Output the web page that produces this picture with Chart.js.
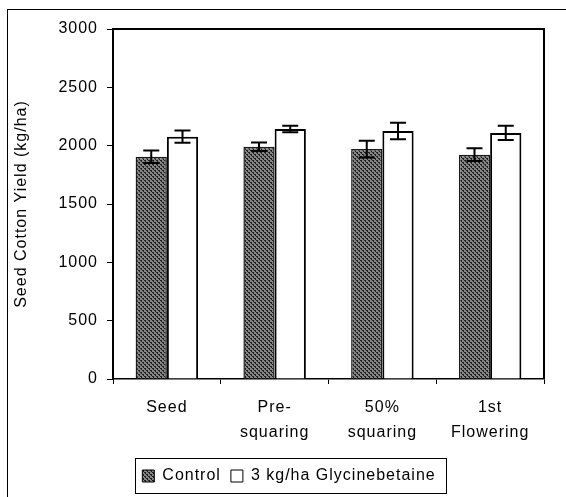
<!DOCTYPE html>
<html>
<head>
<meta charset="utf-8">
<script src="https://cdn.jsdelivr.net/npm/chart.js@4.4.1/dist/chart.umd.min.js"></script>
<style>
  html, body { margin: 0; padding: 0; background: #fff; overflow: hidden; }
  #wrap { position: relative; width: 566px; height: 497px; }
  #frame { position: absolute; left: 7px; top: 9px; width: 700px; height: 700px; border: 1px solid #000; box-sizing: border-box; }
  canvas { position: absolute; left: 0; top: 0; }
</style>
</head>
<body>
<div id="wrap">
  <div id="frame"></div>
  <canvas id="c" width="566" height="497"></canvas>
</div>
<script>
// ---- data ----
const categories = [["Seed"], ["Pre-", "squaring"], ["50%", "squaring"], ["1st", "Flowering"]];
const seriesNames = ["Control", "3 kg/ha Glycinebetaine"];
const controlValues = [1905, 1991, 1971, 1923];
const glycineValues = [2077, 2143, 2126, 2109];
const controlErrors = [54, 36, 72, 54];
const glycineErrors = [53, 28, 70, 61];
const yTicks = [0, 500, 1000, 1500, 2000, 2500, 3000];
const yTitle = "Seed Cotton Yield (kg/ha)";

// ---- pattern for control bars ----
function makePattern() {
  const p = document.createElement('canvas');
  p.width = 4; p.height = 4;
  const g = p.getContext('2d');
  g.fillStyle = '#858585';
  g.fillRect(0, 0, 4, 4);
  g.fillStyle = '#202020';
  g.fillRect(0, 0, 2, 1);
  g.fillRect(2, 2, 2, 1);
  g.fillRect(1, 1, 1, 1);
  g.fillRect(3, 3, 1, 1);
  return g.createPattern(p, 'repeat');
}
const ctx = document.getElementById('c').getContext('2d');
const pattern = makePattern();

const FONT = "'Liberation Sans', Arial, sans-serif";
Chart.defaults.font.family = FONT;
Chart.defaults.font.size = 16;
Chart.defaults.color = '#000';

const spacingPlugin = {
  id: 'spacing',
  beforeUpdate(chart) { chart.ctx.letterSpacing = '1px'; },
  beforeLayout(chart) { chart.ctx.letterSpacing = '1px'; },
  beforeDraw(chart) { chart.ctx.letterSpacing = '1px'; }
};

const errorBars = {
  id: 'errorBars',
  afterDatasetsDraw(chart) {
    const c = chart.ctx;
    const ys = chart.scales.y;
    const errs = [controlErrors, glycineErrors];
    c.save();
    c.strokeStyle = '#000';
    c.lineWidth = 2;
    chart.data.datasets.forEach((ds, i) => {
      const meta = chart.getDatasetMeta(i);
      meta.data.forEach((bar, j) => {
        const v = ds.data[j], e = errs[i][j];
        const yt = ys.getPixelForValue(v + e);
        const yb = ys.getPixelForValue(v - e);
        const x = bar.x, hw = 8;
        c.beginPath();
        c.moveTo(x, yt); c.lineTo(x, yb);
        c.moveTo(x - hw, yt); c.lineTo(x + hw, yt);
        c.moveTo(x - hw, yb); c.lineTo(x + hw, yb);
        c.stroke();
      });
    });
    c.restore();
  }
};

const frameAndLegend = {
  id: 'frameAndLegend',
  afterLayout(chart) {
    const lg = chart.legend;
    const dx = 17;
    lg.left += dx; lg.right += dx;
  },
  afterDraw(chart) {
    const c = chart.ctx;
    const a = chart.chartArea;
    c.save();
    c.strokeStyle = '#000';
    c.lineWidth = 2;
    c.beginPath();
    c.moveTo(a.left, a.top); c.lineTo(a.right, a.top); c.lineTo(a.right, a.bottom);
    c.stroke();
    // legend border
    const lg = chart.legend;
    const pad = lg.options.labels.padding;
    const lw = lg.lineWidths[0];
    const xStart = (lg.left + pad + lg.right - lw) / 2;
    const cy = lg.top + pad + 8;
    c.lineWidth = 1;
    c.strokeRect(Math.round(xStart - 7) + 0.5, Math.round(cy - 18) + 0.5, Math.round(lw + 8), 35);
    c.restore();
  }
};

new Chart(ctx, {
  type: 'bar',
  data: {
    labels: categories,
    datasets: [
      { label: seriesNames[0], data: controlValues, backgroundColor: pattern, borderColor: '#1a1a1a', borderWidth: 1.5,
        categoryPercentage: 0.58, barPercentage: 1.0 },
      { label: seriesNames[1], data: glycineValues, backgroundColor: '#ffffff', borderColor: '#000', borderWidth: 2,
        categoryPercentage: 0.58, barPercentage: 1.0 }
    ]
  },
  options: {
    responsive: false,
    animation: false,
    devicePixelRatio: 1,
    layout: { padding: { left: 0, top: 29, right: 22, bottom: 3 } },
    plugins: {
      tooltip: { enabled: false },
      legend: {
        position: 'bottom',
        labels: {
          boxWidth: 12, boxHeight: 12, padding: 10,
          font: { size: 16, family: FONT }, color: '#000',
          generateLabels(chart) {
            return chart.data.datasets.map((ds, i) => ({
              text: ds.label, fillStyle: ds.backgroundColor, strokeStyle: '#000',
              lineWidth: 1, datasetIndex: i, hidden: false
            }));
          }
        }
      }
    },
    scales: {
      x: {
        grid: { offset: true, drawOnChartArea: false, drawTicks: true, tickLength: 5, color: '#000', lineWidth: 1 },
        border: { color: '#000', width: 1.5 },
        ticks: { padding: 11, font: { size: 16, lineHeight: 1.5625 }, color: '#000', maxRotation: 0 },
        afterFit(s) { s.height = 79; }
      },
      y: {
        min: 0, max: 3000,
        afterBuildTicks(s) { s.ticks = yTicks.map(v => ({ value: v })); },
        grid: { drawOnChartArea: false, drawTicks: true, tickLength: 6, color: '#000', lineWidth: 1 },
        border: { color: '#000', width: 2 },
        ticks: { padding: 9, font: { size: 16 }, color: '#000', callback: (v) => String(v) },
        title: { display: true, text: yTitle, font: { size: 16 }, color: '#000', padding: { top: 12, bottom: 0 } },
        afterFit(s) { s.width = 113; }
      }
    }
  },
  plugins: [spacingPlugin, errorBars, frameAndLegend]
});
</script>
</body>
</html>
